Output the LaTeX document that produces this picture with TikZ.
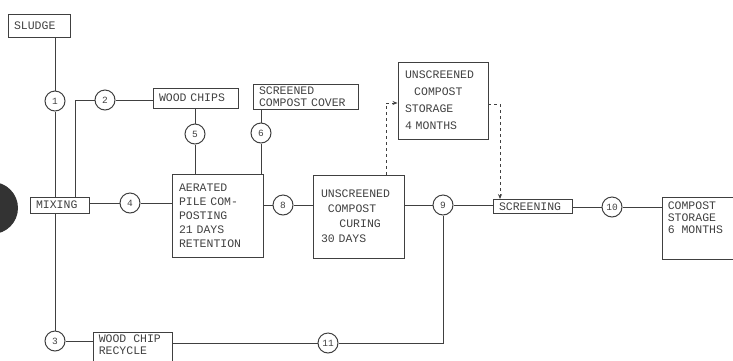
\documentclass[tikz,border=0pt]{standalone}
\usepackage{fontspec}
\setmonofont{Liberation Mono}
\usetikzlibrary{arrows.meta}
\begin{document}
\begin{tikzpicture}[x=1pt,y=-1pt,
 ln/.style={draw=black!75, line width=0.9pt},
 box/.style={draw=black!75, line width=0.9pt, font=\ttfamily\fontsize{11.5}{14}\selectfont, text=black!75, inner xsep=6pt, inner ysep=2pt, align=left},
 txt/.style={font=\ttfamily\fontsize{11.5}{12}\selectfont, text=black!75, inner sep=0pt, align=left, anchor=north west},
 num/.style={circle, draw=black!75, line width=1pt, minimum size=20pt, inner sep=0pt, font=\ttfamily\fontsize{9.5}{9.5}\selectfont, text=black!75},
 dsh/.style={ln, dash pattern=on 3pt off 3pt},
 tip/.style={-{Stealth[length=5pt,width=4pt]}}]
\useasboundingbox (0,0) rectangle (733,360);
\clip (0,0) rectangle (733,360);
\fill[black!80] (-8,208) circle (26pt);
% boxes
\node[box, text width=50pt, minimum height=23pt] (sludge) at (39,25.5) {SLUDGE};
\node[box, text width=73pt, minimum height=20pt] (chips) at (195.5,98) {WOOD CHIPS};
\node[box, text width=93pt, minimum height=25pt, font=\ttfamily\fontsize{11.5}{12}\selectfont] (cover) at (305.5,96.5) {SCREENED\\COMPOST COVER};
\node[box, text width=47pt, minimum height=16pt, inner ysep=1pt] (mixing) at (59.5,205) {MIXING};
\node[box, text width=77pt, minimum height=83pt, inner xsep=7pt] (aerated) at (217.5,215.5) {AERATED\\PILE COM-\\POSTING\\21 DAYS\\RETENTION};
\node[box, text width=75pt, minimum height=83pt, inner xsep=8pt, font=\ttfamily\fontsize{11.5}{15}\selectfont] (curing) at (358.5,216.5) {UNSCREENED\\\hspace*{0.6em}COMPOST\\\hspace*{1.6em}CURING\\30 DAYS};
\node[box, text width=76pt, minimum height=77pt, inner xsep=7pt, font=\ttfamily\fontsize{11.5}{17}\selectfont] (ustore) at (443,100.5) {UNSCREENED\\\hspace*{0.8em}COMPOST\\STORAGE\\4 MONTHS};
\node[box, text width=67pt, minimum height=14pt, inner ysep=1pt] (screen) at (532.5,206.5) {SCREENING};
\node[box, minimum width=78pt, minimum height=62pt] (cstore) at (701,228) {};
\node[txt] (cstoretext) at ([xshift=6pt,yshift=-5pt]cstore.north west) {COMPOST\\STORAGE\\6 MONTHS};
\node[box, minimum width=79pt, minimum height=36pt] (recycle) at (132.5,350) {};
\node[txt] (recycletext) at ([xshift=6pt,yshift=-3pt]recycle.north west) {WOOD CHIP\\RECYCLE};
% numbered circles
\node[num] (c1) at (55,101) {1};
\node[num] (c2) at (105,100) {2};
\node[num] (c3) at (55,341) {3};
\node[num] (c4) at (130,203) {4};
\node[num] (c5) at (195,134) {5};
\node[num] (c6) at (261,133) {6};
\node[num] (c8) at (283,205) {8};
\node[num] (c9) at (443,205) {9};
\node[num] (c10) at (612,207) {10};
\node[num] (c11) at (328,343) {11};
\coordinate (d1) at (386,103);
\coordinate (d2) at (500,104);
% connectors
\draw[ln] (sludge.south -| c1) -- (c1);
\draw[ln] (c1) -- (c1 |- mixing.north);
\draw[ln] (c1 |- mixing.south) -- (c3);
\draw[ln] (c2) -- (c2 -| chips.west);
\draw[ln] (c2.west) -| ([xshift=15.5pt]mixing.north);
\draw[ln] (mixing.east |- c4) -- (c4) -- (c4 -| aerated.west);
\draw[ln] (chips.south -| c5) -- (c5) -- (c5 |- aerated.north);
\draw[ln] (cover.south -| c6) -- (c6) -- (c6 |- aerated.north);
\draw[ln] (aerated.east |- c8) -- (c8) -- (c8 -| curing.west);
\draw[ln] (curing.east |- c9) -- (c9) -- (c9 -| screen.west);
\draw[ln] (screen.east |- c10) -- (c10) -- (c10 -| cstore.west);
\draw[ln] (c3) -- (c3 -| recycle.west);
\draw[ln] (recycle.east |- c11) -- (c11) -| (c9);
\draw[dsh, tip] (curing.north -| d1) |- (ustore.west |- d1);
\draw[dsh, tip] (ustore.east |- d2) -| (screen.north -| d2);
\end{tikzpicture}
\end{document}
